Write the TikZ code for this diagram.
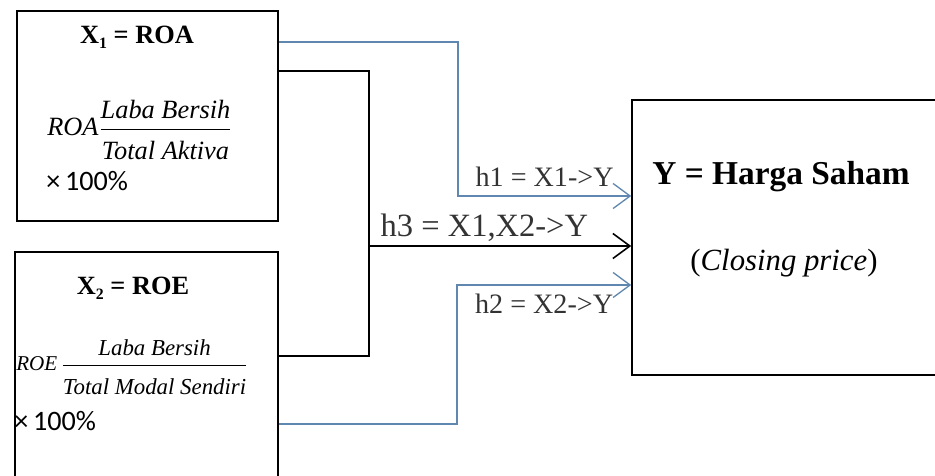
\documentclass[tikz,border=0pt]{standalone}
\usepackage{amsmath}
\usepackage{fontspec}
\setmainfont{Liberation Serif}
\newfontfamily\calibri{Carlito}
\usetikzlibrary{arrows.meta}
\definecolor{lineblue}{RGB}{95,135,175}
\newcommand{\lowsub}[1]{\lower0.45ex\hbox{\fontsize{9}{10}\selectfont #1}}

\tikzset{
  varbox/.style={draw, line width=0.9pt, rectangle, inner sep=0pt},
  link/.style={line width=0.9pt},
  bluelink/.style={line width=0.75pt, lineblue},
  tip/.style={-{Straight Barb[length=3.4mm, width=5mm]}},
}

\begin{document}
\begin{tikzpicture}[x=0.2mm, y=-0.2mm]
  \useasboundingbox (0,0) rectangle (935,475);
  \clip (0,0) rectangle (935,475);
  % kotak variabel
  \node[varbox, minimum width=52.2mm, minimum height=42mm] (roa) at (147.5,116) {};
  \node[varbox, minimum width=52.6mm, minimum height=49.6mm] (roe) at (146.5,376) {};
  \node[varbox, minimum width=65.6mm, minimum height=55mm] (harga) at (796,237.5) {};
  % isi kotak X1
  \node[font=\bfseries\fontsize{15}{17}\selectfont] (roatitle) at (137,37) {X\lowsub{1} = ROA};
  \node[font=\itshape\fontsize{15}{17}\selectfont, anchor=west, inner sep=0pt] (roaformula) at (47,130)
       {ROA$\dfrac{\text{Laba Bersih}\rule[-3pt]{0pt}{3pt}}{\text{Total Aktiva}\rule{0pt}{15pt}}$};
  \node[font=\calibri\fontsize{16}{18}\selectfont, anchor=west, inner sep=0pt] (roatimes) at (46,181) {×\,100\%};
  % isi kotak X2
  \node[font=\bfseries\fontsize{15}{17}\selectfont] (roetitle) at (133,288) {X\lowsub{2} = ROE};
  \node[font=\itshape\fontsize{13}{15}\selectfont, anchor=west, inner sep=0pt] (roeformula) at (16,367)
       {\fontsize{12}{14}\selectfont ROE\,$\dfrac{\text{\fontsize{13}{15}\selectfont Laba Bersih}\rule[-4pt]{0pt}{4pt}}{\text{\fontsize{13}{15}\selectfont Total Modal Sendiri}\rule{0pt}{15pt}}$};
  \node[font=\calibri\fontsize{16}{18}\selectfont, anchor=west, inner sep=0pt] (roetimes) at (14,421) {×\,100\%};
  % isi kotak Y
  \node[font=\bfseries\fontsize{19}{21}\selectfont] (hargatitle) at (781,177) {Y = Harga Saham};
  \node[font=\fontsize{17.5}{19}\selectfont] (hargasub) at (784,263) {(\textit{Closing price})};
  % hipotesis
  \draw[bluelink, tip] (roa.east |- 0,42) -| (458,196) -- (harga.west |- 0,196)
       node[midway, above, black!80, font=\fontsize{16}{18}\selectfont, inner sep=5pt] (hone) {h1 = X1->Y};
  \draw[link] (roa.east |- 0,71) -| (369,356) -- (roe.east |- 0,356);
  \coordinate (join) at (369,246);
  \draw[link, tip] (join) -- (harga.west |- join)
       node[pos=0.44, above, black!80, font=\fontsize{18.5}{20}\selectfont, inner sep=2pt] (hthree) {h3 = X1,X2->Y};
  \draw[bluelink, tip] (roe.east |- 0,424) -| (457,285) -- (harga.west |- 0,285)
       node[midway, below, black!80, font=\fontsize{16}{18}\selectfont, inner sep=5pt] (htwo) {h2 = X2->Y};
\end{tikzpicture}
\end{document}
